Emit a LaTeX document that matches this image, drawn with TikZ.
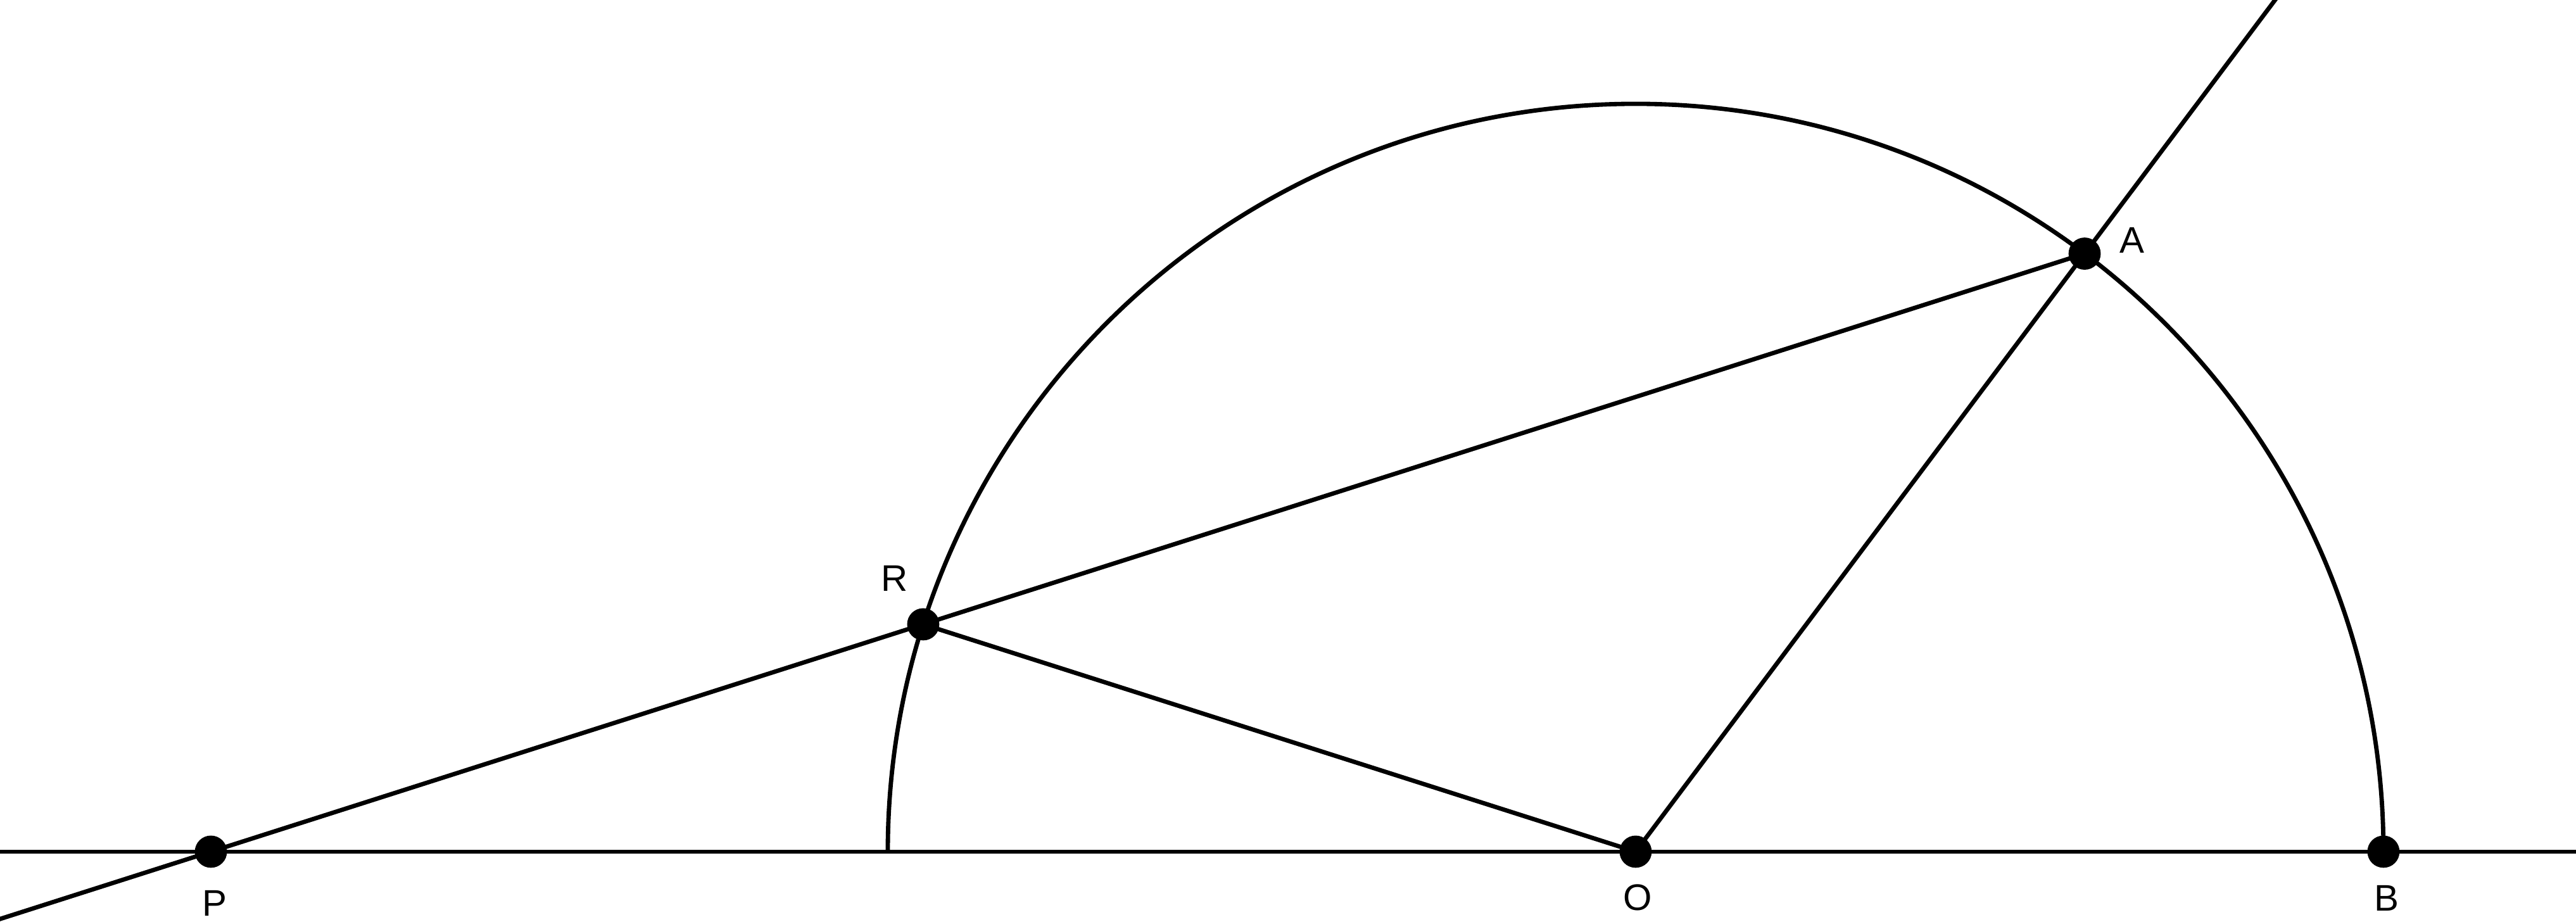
\documentclass[tikz,border=0pt]{standalone}
\usepackage{fontspec}
\setmainfont{Liberation Sans}
\usepackage{tikz}
\usetikzlibrary{calc}

\begin{document}
\begin{tikzpicture}[line width=0.75pt,
        pt/.style={inner sep=0pt, font=\fontsize{6.4}{7}\selectfont}]
            \useasboundingbox (-9.956, -0.428) rectangle (5.724, 5.184);
            \clip (-9.956, -0.428) rectangle (5.724, 5.184);

            \coordinate (O) at (0, 0);
            \coordinate (B) at (4.552, 0);
            \coordinate (A) at (53.1:4.552);
            \coordinate (R) at (162.3:4.552);
            \coordinate (P) at (-8.672, 0);

            \draw (-10, 0) -- (6, 0);
            \draw (B) arc (0:180:4.552);
            \draw ($(P)!-0.2!(A)$) -- (A);
            \draw (O) -- ($(O)!1.5!(A)$);
            \draw (R) -- (O);

            \fill (O) circle (0.098) (B) circle (0.098) (A) circle (0.098)
                (R) circle (0.098) (P) circle (0.098);

            \node[pt] (labA) at ($(A)+(0.289, 0.081)$) {A};
            \node[pt] (labR) at ($(R)+(-0.173, 0.281)$) {R};
            \node[pt] (labP) at ($(P)+(0.023, -0.316)$) {P};
            \node[pt] (labO) at ($(O)+(0.012, -0.281)$) {O};
            \node[pt] (labB) at ($(B)+(0.019, -0.285)$) {B};
        \end{tikzpicture}
\end{document}
